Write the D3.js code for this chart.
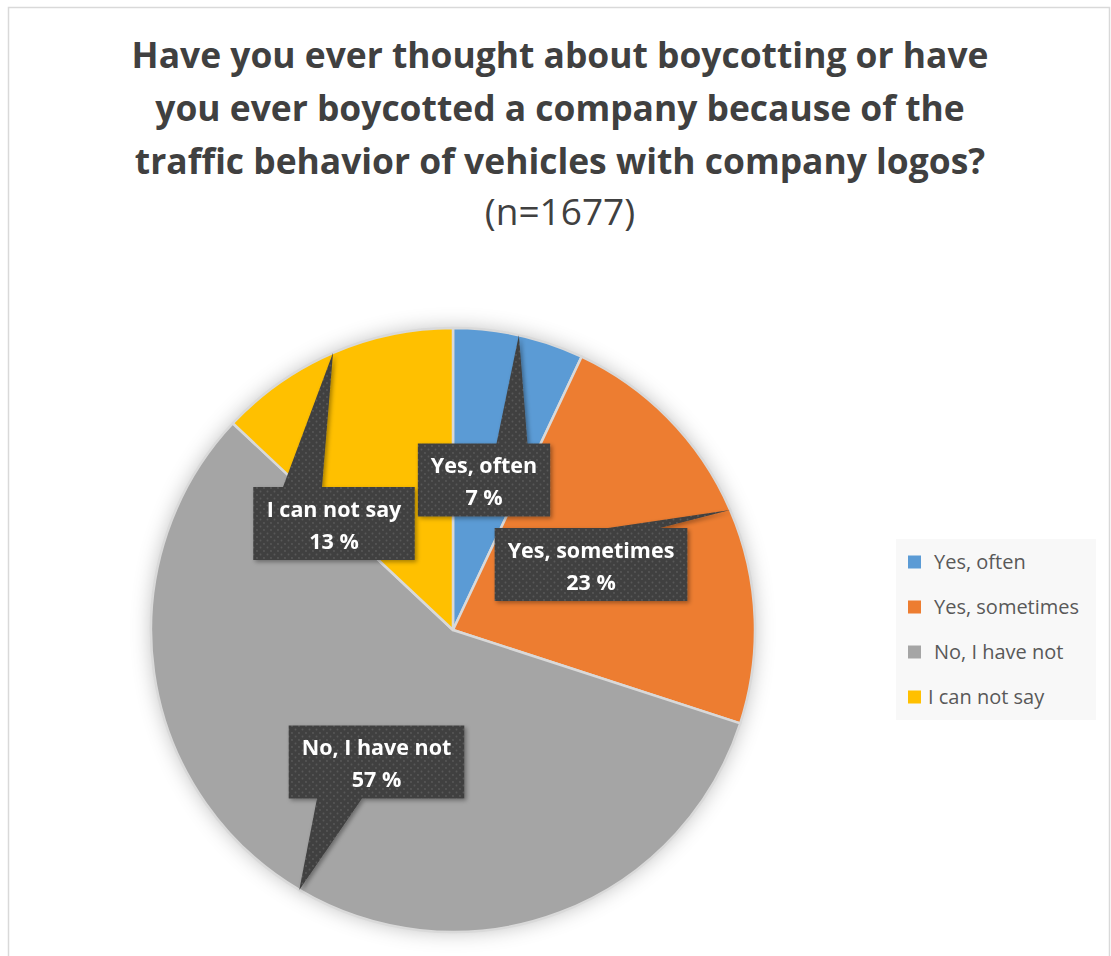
<!DOCTYPE html>
<html><head><meta charset="utf-8">
<script src="https://cdn.jsdelivr.net/npm/d3@7"></script>
<style>body{margin:0;background:#fff}</style>
</head><body>
<svg id="chart" width="1111" height="956"></svg>
<script>
// Survey answers and their shares (percent)
const categories = ["Yes, often", "Yes, sometimes", "No, I have not", "I can not say"];
const shares = [7, 23, 57, 13];
const colors = ["#5B9BD5", "#ED7D31", "#A5A5A5", "#FFC000"];
const titleLines = [
  "Have you ever thought about boycotting or have",
  "you ever boycotted a company because of the",
  "traffic behavior of vehicles with company logos?"
];
const subtitle = "(n=1677)";

// Placement of the data callouts (box centre, side of the pointer, pointer base)
const calloutLayout = [
  { cx: 484,   cy: 480,   edge: "top",    baseX: 512,   baseW: 31 },
  { cx: 591,   cy: 564.5, edge: "top",    baseX: 634,   baseW: 52 },
  { cx: 376.5, cy: 762,   edge: "bottom", baseX: 339.5, baseW: 45 },
  { cx: 334,   cy: 523.5, edge: "top",    baseX: 302.5, baseW: 39 }
];

const svg = d3.select("#chart");
const defs = svg.append("defs");

// soft glow behind the pie
const glow = defs.append("filter").attr("id", "glow")
  .attr("x", "-20%").attr("y", "-20%").attr("width", "140%").attr("height", "140%");
glow.append("feGaussianBlur").attr("in", "SourceAlpha").attr("stdDeviation", 10).attr("result", "b");
glow.append("feFlood").attr("flood-color", "#000").attr("flood-opacity", 0.25);
glow.append("feComposite").attr("in2", "b").attr("operator", "in");

// small drop shadow for callouts
const drop = defs.append("filter").attr("id", "drop")
  .attr("x", "-20%").attr("y", "-20%").attr("width", "140%").attr("height", "140%");
drop.append("feGaussianBlur").attr("in", "SourceAlpha").attr("stdDeviation", 2).attr("result", "b");
drop.append("feOffset").attr("in", "b").attr("dx", 2).attr("dy", 2).attr("result", "o");
drop.append("feFlood").attr("flood-color", "#000").attr("flood-opacity", 0.35);
drop.append("feComposite").attr("in2", "o").attr("operator", "in").attr("result", "s");
const dm = drop.append("feMerge");
dm.append("feMergeNode").attr("in", "s");
dm.append("feMergeNode").attr("in", "SourceGraphic");

// dotted fill for callouts
const pat = defs.append("pattern").attr("id", "dots")
  .attr("patternUnits", "userSpaceOnUse").attr("width", 7).attr("height", 7);
pat.append("rect").attr("width", 7).attr("height", 7).attr("fill", "#404040");
pat.append("circle").attr("cx", 1.5).attr("cy", 1.5).attr("r", 0.9).attr("fill", "#595959");
pat.append("circle").attr("cx", 5).attr("cy", 5).attr("r", 0.9).attr("fill", "#595959");

// chart frame
svg.append("rect").attr("x", 8.5).attr("y", 7.5).attr("width", 1101).attr("height", 1000)
  .attr("fill", "#fff").attr("stroke", "#d9d9d9").attr("stroke-width", 1.5);

// title
const title = svg.append("text").attr("text-anchor", "middle")
  .attr("font-family", "'Open Sans', sans-serif").attr("font-weight", 700)
  .attr("font-size", 35.4).attr("fill", "#404040");
titleLines.forEach((t, i) => {
  title.append("tspan").attr("x", 560).attr("y", 68 + i * 53).text(t);
});
svg.append("text").attr("x", 560).attr("y", 225).attr("text-anchor", "middle")
  .attr("font-family", "'Open Sans', sans-serif").attr("font-size", 37)
  .attr("fill", "#404040").text(subtitle);

// pie
const cx = 453, cy = 630, R = 302;
const pie = d3.pie().sort(null).value(d => d.value);
const arcs = pie(categories.map((c, i) => ({ name: c, value: shares[i], color: colors[i] })));
const arc = d3.arc().innerRadius(0).outerRadius(R);
const g = svg.append("g").attr("transform", `translate(${cx},${cy})`);

g.append("circle").attr("r", R).attr("fill", "#fff").attr("filter", "url(#glow)");
g.selectAll("path.slice").data(arcs).join("path")
  .attr("class", "slice")
  .attr("d", arc)
  .attr("fill", d => d.data.color)
  .attr("stroke", "#d9d9d9").attr("stroke-width", 2.5).attr("stroke-linejoin", "round");

// callouts
const fontLbl = "'Open Sans', sans-serif";
arcs.forEach((d, i) => {
  const L = calloutLayout[i];
  const a = (d.startAngle + d.endAngle) / 2;
  const tip = [cx + R * Math.sin(a), cy - R * Math.cos(a)];
  const grp = svg.append("g").attr("filter", "url(#drop)");
  const boxPath = grp.append("path").attr("fill", "url(#dots)");
  const tg = grp.append("text").attr("text-anchor", "middle").attr("fill", "#fff")
    .attr("font-family", fontLbl).attr("font-weight", 700).attr("font-size", 21.5);
  tg.append("tspan").attr("x", L.cx).attr("y", L.cy - 7).text(d.data.name);
  tg.append("tspan").attr("x", L.cx).attr("y", L.cy + 25).text(d.data.value + " %");
  const tw = tg.node().getBBox().width;
  const bw = tw + 26, bh = 73;
  const x0 = L.cx - bw / 2, x1 = L.cx + bw / 2, y0 = L.cy - bh / 2, y1 = L.cy + bh / 2;
  const bl = L.baseX - L.baseW / 2, br = L.baseX + L.baseW / 2;
  let p;
  if (L.edge === "top") {
    p = `M${x0},${y0} L${bl},${y0} L${tip[0]},${tip[1]} L${br},${y0} L${x1},${y0} L${x1},${y1} L${x0},${y1} Z`;
  } else {
    p = `M${x0},${y0} L${x1},${y0} L${x1},${y1} L${br},${y1} L${tip[0]},${tip[1]} L${bl},${y1} L${x0},${y1} Z`;
  }
  boxPath.attr("d", p);
});

// legend
const lg = svg.append("g");
lg.append("rect").attr("x", 896).attr("y", 539).attr("width", 200).attr("height", 181).attr("fill", "#f8f8f8");
const ly = d3.scalePoint().domain(categories).range([562, 697]);
categories.forEach((c, i) => {
  lg.append("rect").attr("x", 908).attr("y", ly(c) - 6.5).attr("width", 13).attr("height", 13).attr("fill", colors[i]);
  lg.append("text").attr("x", i === 3 ? 928 : 934).attr("y", ly(c) + 7)
    .attr("font-family", "'Open Sans', sans-serif").attr("font-size", 20)
    .attr("fill", "#595959").text(c);
});
</script>
</body></html>
